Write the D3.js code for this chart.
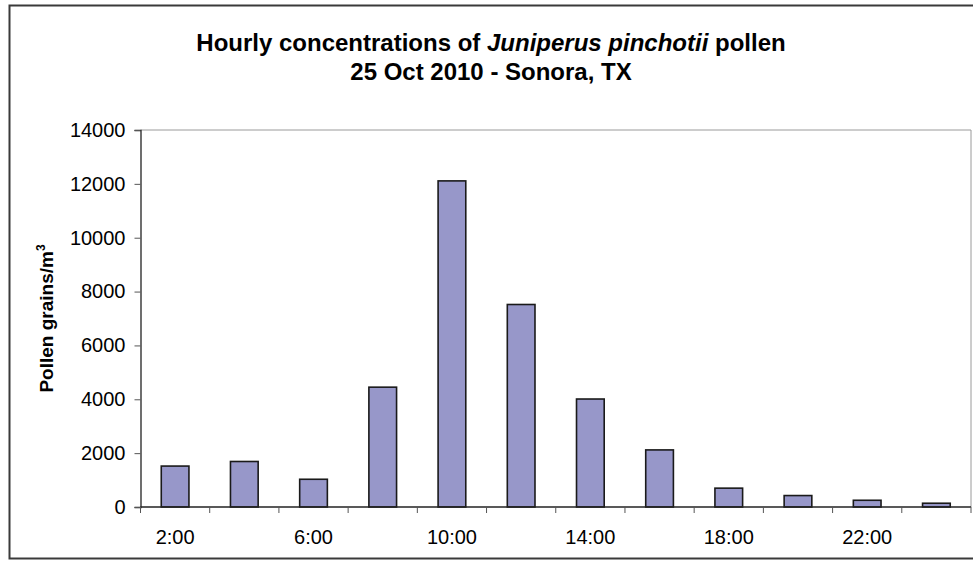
<!DOCTYPE html>
<html>
<head>
<meta charset="utf-8">
<script src="https://cdn.jsdelivr.net/npm/d3@7"></script>
<style>
  body { margin: 0; background: #fff; }
  svg { display: block; font-family: "Liberation Sans", Arial, sans-serif; }
</style>
</head>
<body>
<svg width="973" height="561"></svg>
<script>
// hourly pollen counts
var hours = ["2:00", "4:00", "6:00", "8:00", "10:00", "12:00", "14:00", "16:00", "18:00", "20:00", "22:00", "24:00"];
var pollen = [1520, 1690, 1030, 4450, 12110, 7520, 4010, 2120, 700, 425, 250, 140];
var yTicks = [0, 2000, 4000, 6000, 8000, 10000, 12000, 14000];
var shownLabels = ["2:00", "6:00", "10:00", "14:00", "18:00", "22:00"];

var svg = d3.select("svg"),
  plotLeft = 140.5, plotRight = 971, plotTop = 130, plotBottom = 507;

// outer chart frame
svg.append("rect")
  .attr("x", 9.5).attr("y", 5.5)
  .attr("width", 975).attr("height", 553)
  .attr("fill", "none").attr("stroke", "#3a3a3a").attr("stroke-width", 2);

var x = d3.scaleBand()
  .domain(hours)
  .range([plotLeft, plotRight])
  .paddingInner(0.6)
  .paddingOuter(0.3);

var y = d3.scaleLinear()
  .domain([0, 14000])
  .range([plotBottom, plotTop]);

// plot area border (light gray top/right)
svg.append("path")
  .attr("d", "M" + plotLeft + "," + y(14000) + "H" + plotRight + "V" + plotBottom)
  .attr("fill", "none").attr("stroke", "#9a9a9a").attr("stroke-width", 1);

svg.selectAll("rect.bar")
  .data(pollen)
  .enter().append("rect")
  .attr("class", "bar")
  .attr("x", function (d, i) { return x(hours[i]); })
  .attr("y", function (d) { return y(d); })
  .attr("width", x.bandwidth())
  .attr("height", function (d) { return plotBottom - y(d); })
  .attr("fill", "#9797c9")
  .attr("stroke", "#1a1a1a")
  .attr("stroke-width", 1.6);

// y axis
var yAxis = svg.append("g")
  .attr("transform", "translate(" + plotLeft + ",0)")
  .call(d3.axisLeft(y).tickValues(yTicks).tickSize(6).tickPadding(9).tickFormat(d3.format("d")));
yAxis.select(".domain").attr("stroke", "#222").attr("stroke-width", 1.3);
yAxis.selectAll(".tick line").attr("stroke", "#555");
yAxis.selectAll("text").attr("font-size", 20).attr("fill", "#000")
  .attr("font-family", "Liberation Sans, Arial, sans-serif");

// x axis: ticks between categories, labels every other hour
var xb = d3.scaleLinear().domain([0, hours.length]).range([plotLeft, plotRight]);
var xAxis = svg.append("g").attr("transform", "translate(0," + plotBottom + ")");
xAxis.append("line")
  .attr("x1", plotLeft).attr("x2", plotRight)
  .attr("stroke", "#222").attr("stroke-width", 1.3);
xAxis.selectAll("line.tk")
  .data(d3.range(hours.length + 1))
  .enter().append("line")
  .attr("class", "tk")
  .attr("x1", function (d) { return xb(d); })
  .attr("x2", function (d) { return xb(d); })
  .attr("y1", 0).attr("y2", 6)
  .attr("stroke", "#555");
xAxis.selectAll("text")
  .data(shownLabels)
  .enter().append("text")
  .attr("x", function (d) { return x(d) + x.bandwidth() / 2; })
  .attr("y", 37)
  .attr("text-anchor", "middle")
  .attr("font-size", 20)
  .text(function (d) { return d; });

// axis title
var yt = svg.append("text")
  .attr("transform", "translate(53," + (plotTop + plotBottom) / 2 + ") rotate(-90)")
  .attr("text-anchor", "middle")
  .attr("font-size", 19)
  .attr("font-weight", "bold");
yt.append("tspan").text("Pollen grains/m");
yt.append("tspan").attr("dy", -8).attr("font-size", 12).text("3");

// title
var t1 = svg.append("text")
  .attr("x", 491).attr("y", 51)
  .attr("text-anchor", "middle")
  .attr("font-size", 24).attr("font-weight", "bold");
t1.append("tspan").text("Hourly concentrations of ");
t1.append("tspan").attr("font-style", "italic").text("Juniperus pinchotii");
t1.append("tspan").text(" pollen");
svg.append("text")
  .attr("x", 491).attr("y", 80)
  .attr("text-anchor", "middle")
  .attr("font-size", 24).attr("font-weight", "bold")
  .text("25 Oct 2010 - Sonora, TX");
</script>
</body>
</html>
